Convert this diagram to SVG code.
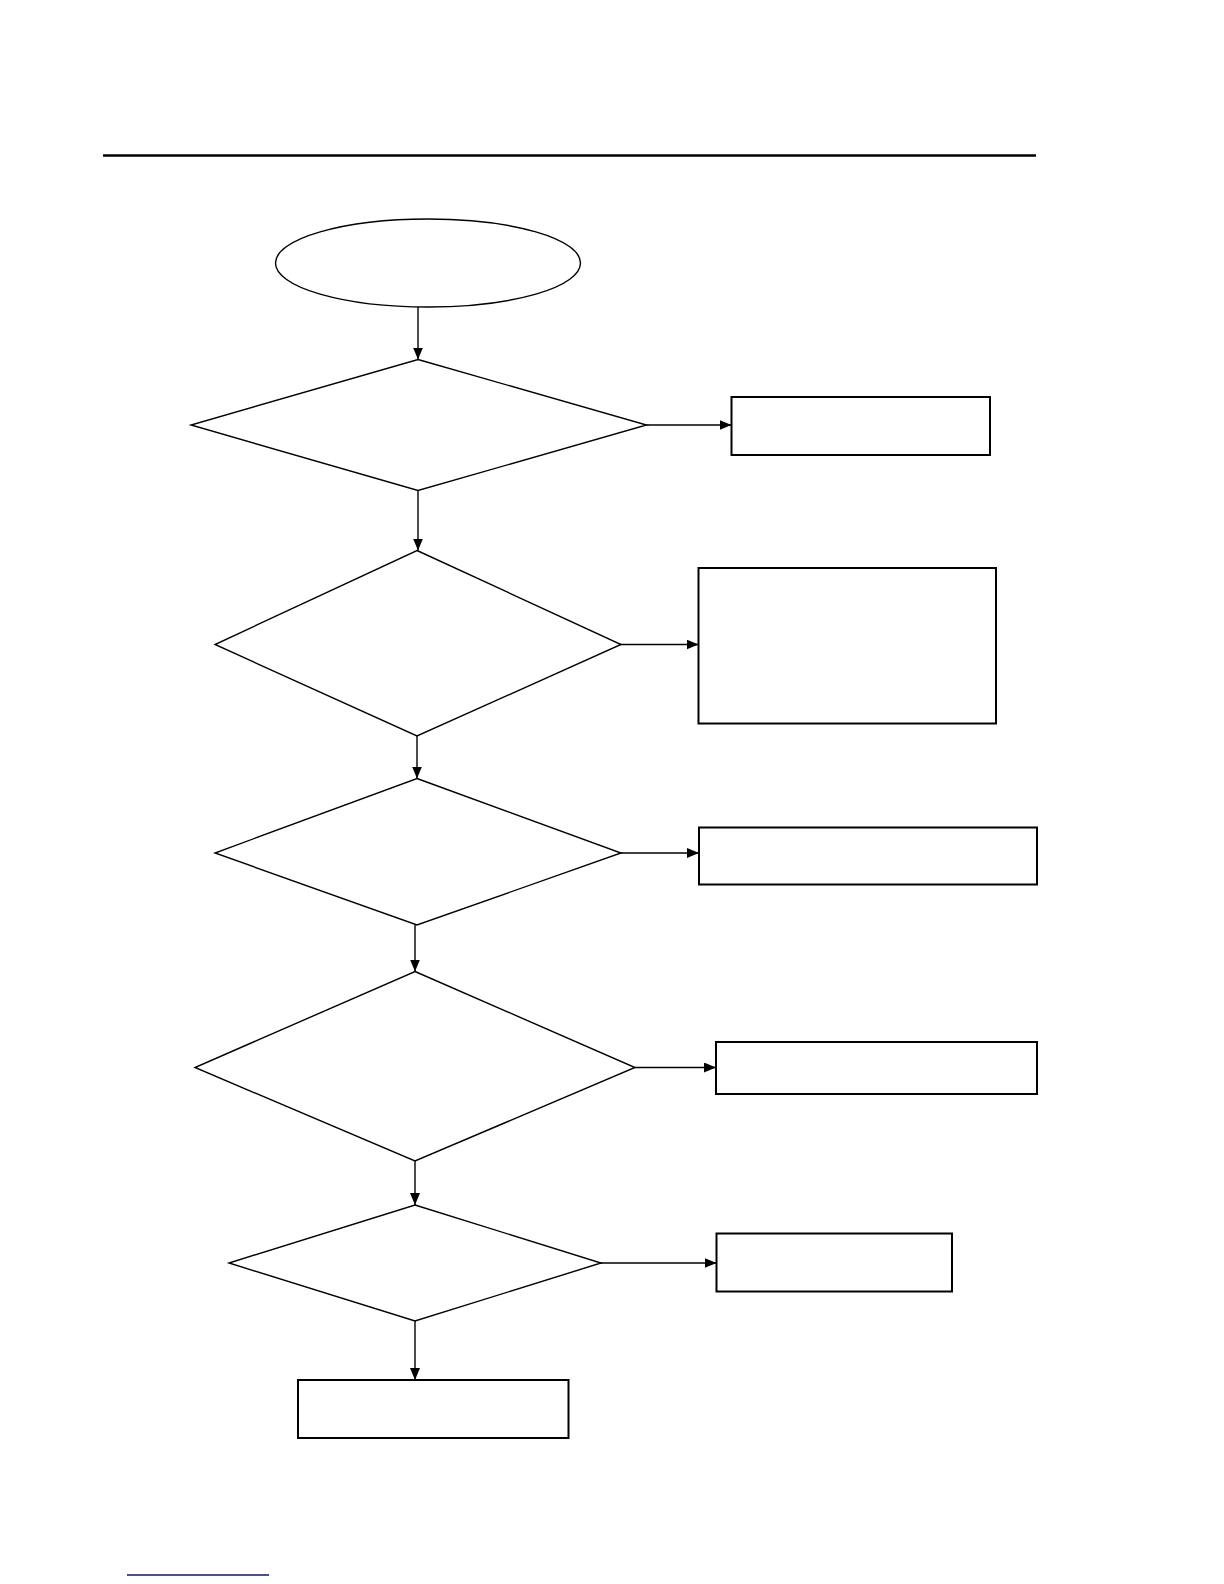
<svg xmlns="http://www.w3.org/2000/svg" width="1224" height="1584" viewBox="0 0 1224 1584">
<style>
.shape{fill:#fff;stroke:#000;stroke-width:1.4}
.box{fill:#fff;stroke:#000;stroke-width:2}
.conn{fill:none;stroke:#000;stroke-width:1.4}
</style>
<defs>
<marker id="arr" viewBox="0 0 12 10" refX="12" refY="5" markerWidth="12" markerHeight="10" markerUnits="userSpaceOnUse" orient="auto">
<path d="M0,0 L12,5 L0,10 Z" fill="#000"/>
</marker>
</defs>
<rect width="1224" height="1584" fill="#fff"/>
<line x1="103" y1="155.5" x2="1036" y2="155.5" stroke="#000" stroke-width="2.5"/>
<g id="start"><ellipse class="shape" cx="428" cy="263" rx="152.5" ry="44"/></g>
<g id="d1"><polygon class="shape" points="418,359.5 646.5,425 418,490.5 191,425"/></g>
<g id="b1"><rect class="box" x="731.5" y="397" width="258.5" height="58"/></g>
<g id="d2"><polygon class="shape" points="417,550.5 621,644.5 417,736 215,644.5"/></g>
<g id="b2"><rect class="box" x="698.5" y="568" width="297.5" height="155.5"/></g>
<g id="d3"><polygon class="shape" points="417,778.5 621,853 417,925 215,853"/></g>
<g id="b3"><rect class="box" x="699" y="827.5" width="338" height="57"/></g>
<g id="d4"><polygon class="shape" points="415,971.5 635,1067.5 415,1161 195,1067.5"/></g>
<g id="b4"><rect class="box" x="716" y="1042" width="321" height="52"/></g>
<g id="d5"><polygon class="shape" points="415,1205 601,1263 415,1321 229,1263"/></g>
<g id="b5"><rect class="box" x="716.5" y="1233.5" width="235.5" height="58"/></g>
<g id="b6"><rect class="box" x="298" y="1380" width="270.5" height="58"/></g>
<g id="connectors">
<line class="conn" x1="418" y1="307" x2="418" y2="359.5" marker-end="url(#arr)"/>
<line class="conn" x1="646.5" y1="425" x2="731.5" y2="425" marker-end="url(#arr)"/>
<line class="conn" x1="418" y1="490.5" x2="418" y2="550.5" marker-end="url(#arr)"/>
<line class="conn" x1="620" y1="644.5" x2="698.5" y2="644.5" marker-end="url(#arr)"/>
<line class="conn" x1="417" y1="736" x2="417" y2="778.5" marker-end="url(#arr)"/>
<line class="conn" x1="620" y1="853" x2="699" y2="853" marker-end="url(#arr)"/>
<line class="conn" x1="415" y1="925" x2="415" y2="971.5" marker-end="url(#arr)"/>
<line class="conn" x1="635" y1="1067.5" x2="716" y2="1067.5" marker-end="url(#arr)"/>
<line class="conn" x1="415" y1="1161" x2="415" y2="1205" marker-end="url(#arr)"/>
<line class="conn" x1="600" y1="1263" x2="716.5" y2="1263" marker-end="url(#arr)"/>
<line class="conn" x1="415" y1="1321" x2="415" y2="1380" marker-end="url(#arr)"/>
</g>
<line x1="127" y1="1575" x2="269" y2="1575" stroke="#10107a" stroke-width="1.5"/>
</svg>
